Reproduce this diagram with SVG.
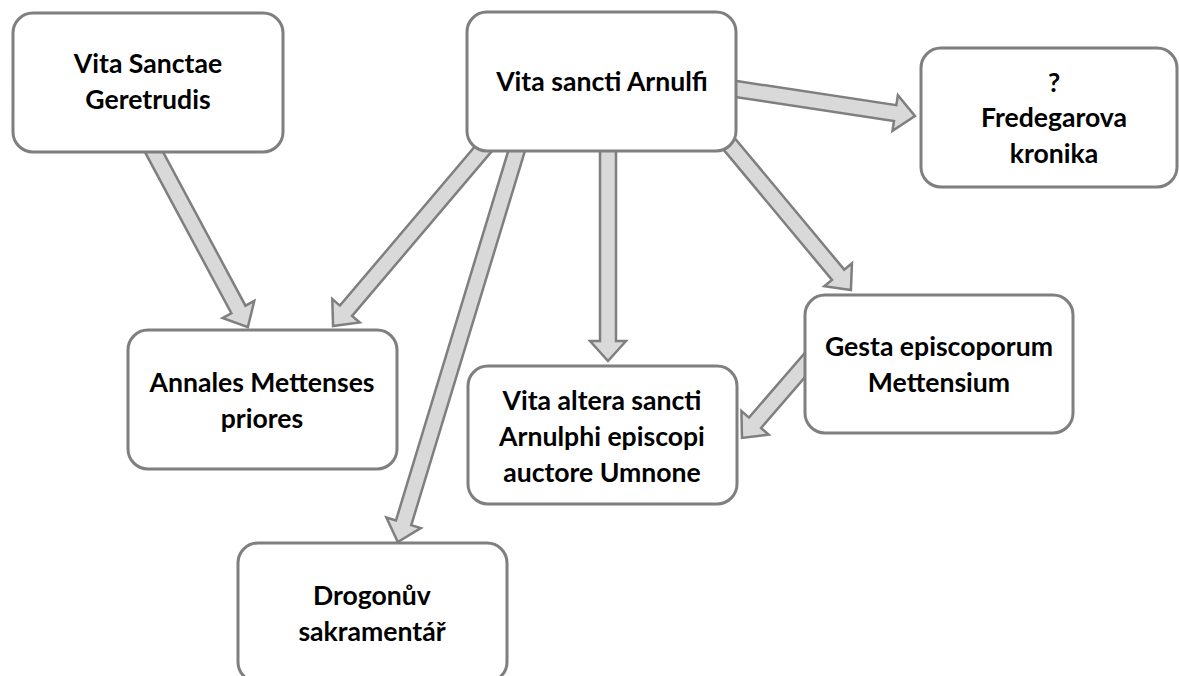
<svg xmlns="http://www.w3.org/2000/svg" width="1179" height="676" viewBox="0 0 1179 676">
<style>
.box{fill:#ffffff;stroke:#7f7f7f;stroke-width:3}
.arr{fill:#d9d9d9;stroke:#7f7f7f;stroke-width:2.5;stroke-linejoin:miter}
.t{font-family:Lato,"Liberation Sans",sans-serif;font-weight:bold;font-size:26.6px;fill:#000000;text-anchor:middle}
</style>
<rect width="1179" height="676" fill="#ffffff"/>
<g id="connectors">
<g transform="translate(148.3,141.4) rotate(61.8)"><polygon class="arr" points="0,-8 190.7,-8 190.7,-18 210.7,0 190.7,18 190.7,8 0,8"/></g>
<g transform="translate(490.5,140.4) rotate(130.3)"><polygon class="arr" points="0,-8 223.4,-8 223.4,-18 243.4,0 223.4,18 223.4,8 0,8"/></g>
<g transform="translate(520.4,138.4) rotate(106.9)"><polygon class="arr" points="0,-8 401.8,-8 401.8,-18 421.8,0 401.8,18 401.8,8 0,8"/></g>
<g transform="translate(608,140) rotate(90)"><polygon class="arr" points="0,-8 201,-8 201,-18 221,0 201,18 201,8 0,8"/></g>
<g transform="translate(723.6,137.3) rotate(50.2)"><polygon class="arr" points="0,-8 178.9,-8 178.9,-18 198.9,0 178.9,18 178.9,8 0,8"/></g>
<g transform="translate(726,87.5) rotate(8.6)"><polygon class="arr" points="0,-8 171.1,-8 171.1,-18 191.1,0 171.1,18 171.1,8 0,8"/></g>
<g transform="translate(811.5,357.4) rotate(130.8)"><polygon class="arr" points="0,-8 86.4,-8 86.4,-18 106.4,0 86.4,18 86.4,8 0,8"/></g>
</g>
<g id="geretrudis">
<rect class="box" x="13" y="13" width="270" height="139" rx="20"/>
<text class="t" x="148" y="73">Vita Sanctae</text>
<text class="t" x="148" y="109">Geretrudis</text>
</g>
<g id="arnulfi">
<rect class="box" x="467" y="12" width="269" height="139" rx="20"/>
<text class="t" x="602" y="91">Vita sancti Arnulfi</text>
</g>
<g id="fredegar">
<rect class="box" x="921" y="48" width="256" height="139" rx="20"/>
<text class="t" x="1054" y="92">?</text>
<text class="t" x="1054" y="127">Fredegarova</text>
<text class="t" x="1054" y="163">kronika</text>
</g>
<g id="gesta">
<rect class="box" x="805" y="295" width="268" height="138" rx="20"/>
<text class="t" x="939" y="356">Gesta episcoporum</text>
<text class="t" x="939" y="392">Mettensium</text>
</g>
<g id="annales">
<rect class="box" x="128" y="330" width="269" height="139" rx="20"/>
<text class="t" x="262" y="392">Annales Mettenses</text>
<text class="t" x="262" y="428">priores</text>
</g>
<g id="altera">
<rect class="box" x="468" y="366" width="269" height="138" rx="20"/>
<text class="t" x="602" y="410">Vita altera sancti</text>
<text class="t" x="602" y="446">Arnulphi episcopi</text>
<text class="t" x="602" y="482">auctore Umnone</text>
</g>
<g id="drogo">
<rect class="box" x="238" y="543" width="269" height="139" rx="20"/>
<text class="t" x="372" y="605">Drogonův</text>
<text class="t" x="372" y="641">sakramentář</text>
</g>
</svg>
